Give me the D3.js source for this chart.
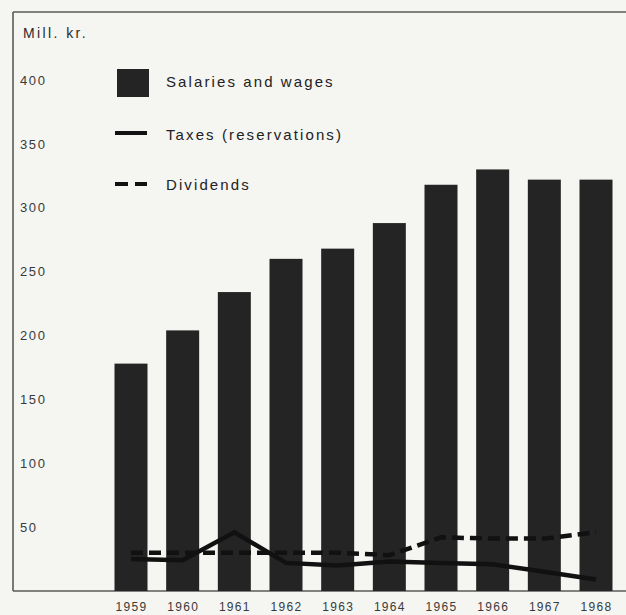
<!DOCTYPE html>
<html>
<head>
<meta charset="utf-8">
<script src="https://cdn.jsdelivr.net/npm/d3@7"></script>
<style>
  html, body { margin: 0; padding: 0; background: #f5f5f2; }
  svg { display: block; }
  text { font-family: "Liberation Sans", Arial, sans-serif; fill: #2b2b2b; }
</style>
</head>
<body>
<script>
// Annual figures, million kroner
const years = ["1959", "1960", "1961", "1962", "1963", "1964", "1965", "1966", "1967", "1968"];
const salaries = [178, 204, 234, 260, 268, 288, 318, 330, 322, 322];
const taxes = [25, 24, 46, 22, 20, 23, 22, 21, 15, 9];
const dividends = [30, 30, 30, 30, 30, 28, 42, 41, 41, 46];
const yTicks = [50, 100, 150, 200, 250, 300, 350, 400];
const legendItems = ["Salaries and wages", "Taxes (reservations)", "Dividends"];
const unitLabel = "Mill. kr.";

const W = 626, H = 615;
const svg = d3.select("body").append("svg").attr("width", W).attr("height", H);

svg.append("rect").attr("width", W).attr("height", H).attr("fill", "#f5f5f2");

const x = d3.scalePoint().domain(years).range([131, 596]);
const barW = 33;
const y = d3.scaleLinear().domain([0, 400]).range([591, 80]);

// frame: left edge, top edge, baseline
const frame = svg.append("g").attr("stroke", "#5a5a5a").attr("stroke-width", 1.6).attr("fill", "none");
frame.append("line").attr("x1", 13).attr("x2", 13).attr("y1", 12).attr("y2", y(0));
frame.append("line").attr("x1", 13).attr("x2", W).attr("y1", 12).attr("y2", 12);

// bars
svg.append("g").selectAll("rect").data(years).join("rect")
  .attr("x", d => x(d) - barW / 2)
  .attr("y", (d, i) => y(salaries[i]))
  .attr("width", barW)
  .attr("height", (d, i) => y(0) - y(salaries[i]))
  .attr("fill", "#242424");

frame.append("line").attr("x1", 13).attr("x2", W).attr("y1", y(0)).attr("y2", y(0));

// lines
const line = d3.line().x((d, i) => x(years[i])).y(d => y(d));
svg.append("path").datum(taxes).attr("d", line)
  .attr("fill", "none").attr("stroke", "#111").attr("stroke-width", 4.5)
  .attr("stroke-linejoin", "miter");
svg.append("path").datum(dividends).attr("d", line)
  .attr("fill", "none").attr("stroke", "#111").attr("stroke-width", 4.5)
  .attr("stroke-dasharray", "12,6");

// y tick labels
const yAxis = svg.append("g").attr("transform", "translate(20,0)")
  .call(d3.axisLeft(y).tickValues(yTicks).tickSize(0).tickPadding(0));
yAxis.select(".domain").remove();
yAxis.selectAll("text")
  .attr("x", 0).attr("text-anchor", "start")
  .style("font-family", "'Liberation Sans', Arial, sans-serif")
  .style("font-size", "13px").style("letter-spacing", "1.6px").style("fill", "#3a3a3a");

// x tick labels
const xAxis = svg.append("g").attr("transform", `translate(0,${y(0)})`)
  .call(d3.axisBottom(x).tickSize(0).tickPadding(11));
xAxis.select(".domain").remove();
xAxis.selectAll("text")
  .style("font-family", "'Liberation Sans', Arial, sans-serif")
  .style("font-size", "12px").style("letter-spacing", "1.3px").style("fill", "#3a3a3a");

// unit label
svg.append("text").attr("x", 23).attr("y", 38).text(unitLabel)
  .style("font-size", "14px").style("letter-spacing", "2.4px").style("fill", "#2b2b2b");

// legend
const lg = svg.append("g");
lg.append("rect").attr("x", 117).attr("y", 69).attr("width", 32).attr("height", 28).attr("fill", "#242424");
lg.append("line").attr("x1", 115).attr("x2", 147).attr("y1", 133).attr("y2", 133)
  .attr("stroke", "#111").attr("stroke-width", 4);
lg.append("line").attr("x1", 115).attr("x2", 147).attr("y1", 184).attr("y2", 184)
  .attr("stroke", "#111").attr("stroke-width", 4).attr("stroke-dasharray", "13,7");
const lgY = [82, 135, 185];
lg.selectAll("text.lg").data(legendItems).join("text").attr("class", "lg")
  .attr("x", 166).attr("y", (d, i) => lgY[i]).attr("dy", "0.35em")
  .text(d => d)
  .style("font-size", "15px").style("letter-spacing", "2.1px").style("fill", "#222");
</script>
</body>
</html>
